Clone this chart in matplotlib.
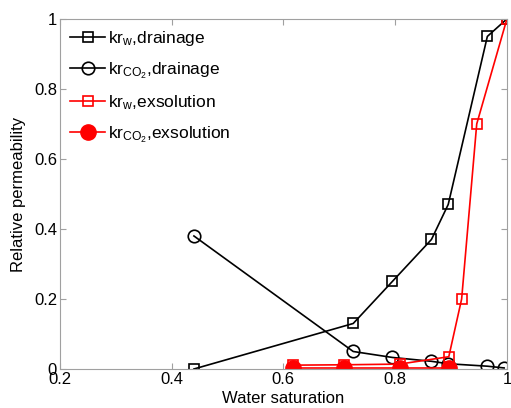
import matplotlib.pyplot as plt

plt.rcParams['font.family'] = ['Liberation Sans', 'DejaVu Sans']
plt.rcParams['mathtext.fontset'] = 'custom'
plt.rcParams['mathtext.rm'] = 'Liberation Sans'
plt.rcParams['mathtext.it'] = 'Liberation Sans'

# drainage curves
sw_drain = [0.44, 0.725, 0.795, 0.865, 0.895, 0.965, 1.0]
krw_drain = [0.0, 0.13, 0.25, 0.37, 0.47, 0.95, 1.0]
sw_drain_co2 = [0.44, 0.725, 0.795, 0.865, 0.895, 0.965, 0.995]
krco2_drain = [0.38, 0.05, 0.033, 0.022, 0.015, 0.008, 0.003]

# exsolution curves
sw_exs = [0.617, 0.708, 0.808, 0.896, 0.919, 0.946, 1.0]
krw_exs = [0.011, 0.012, 0.014, 0.035, 0.2, 0.7, 1.0]
sw_exs_co2 = [0.617, 0.708, 0.808, 0.896]
krco2_exs = [0.004, 0.004, 0.004, 0.004]

fig = plt.figure(figsize=(5.11, 4.08), dpi=100)
ax = fig.add_axes([0.117, 0.0956, 0.875, 0.858])

ax.plot(sw_drain, krw_drain, 'k-s', lw=1.2, ms=7, mfc='none', mew=1.2,
        label=r'kr$_{\rm w}$,drainage')
ax.plot(sw_drain_co2, krco2_drain, 'k-o', lw=1.2, ms=9, mfc='none', mew=1.2,
        label=r'kr$_{\rm CO_2}$,drainage')
ax.plot(sw_exs, krw_exs, '-s', color='red', lw=1.2, ms=7, mfc='none', mew=1.2,
        label=r'kr$_{\rm w}$,exsolution')
ax.plot(sw_exs_co2, krco2_exs, '-o', color='red', lw=1.2, ms=11,
        label=r'kr$_{\rm CO_2}$,exsolution')

ax.set_xlim(0.2, 1)
ax.set_ylim(0, 1)
ax.set_xticks([0.2, 0.4, 0.6, 0.8, 1.0])
ax.set_xticklabels(['0.2', '0.4', '0.6', '0.8', '1'])
ax.set_yticks([0, 0.2, 0.4, 0.6, 0.8, 1.0])
ax.set_yticklabels(['0', '0.2', '0.4', '0.6', '0.8', '1'])
ax.tick_params(direction='in', top=True, right=True, color='#a0a0a0',
               labelsize=12, length=4, pad=2)
for s in ax.spines.values():
    s.set_color('#a0a0a0')

ax.set_xlabel('Water saturation', fontsize=12, labelpad=3)
ax.set_ylabel('Relative permeability', fontsize=12, labelpad=6)

ax.legend(loc='upper left', frameon=False, fontsize=12.5, handlelength=2.0,
          handletextpad=0.2, labelspacing=0.7, borderaxespad=0.2)

fig.savefig('out.png', dpi=100)
